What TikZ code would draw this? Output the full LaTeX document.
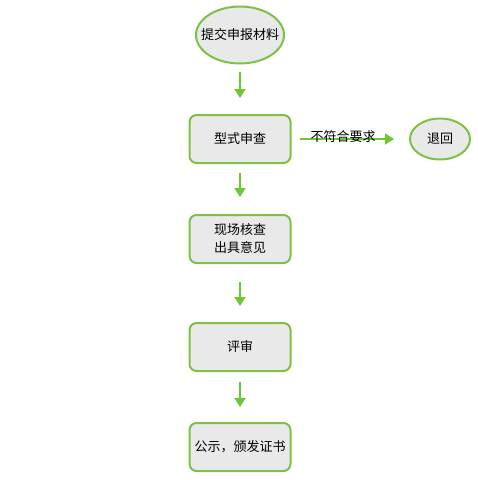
\documentclass[tikz,border=0pt]{standalone}
\usepackage{fontspec}
\setmainfont{Noto Sans CJK SC}
\usetikzlibrary{arrows.meta, shapes.geometric}
\definecolor{linegreen}{HTML}{7DC242}
\definecolor{arrowgreen}{HTML}{6CC635}
\definecolor{boxgrey}{HTML}{E9E9E9}

\begin{document}
\begin{tikzpicture}[x=1pt, y=-1pt,
        stepbox/.style={rectangle, rounded corners=7pt, draw=linegreen, line width=2pt, fill=boxgrey, minimum width=101pt, minimum height=48pt, align=center, inner sep=0pt},
        endnode/.style={ellipse, draw=linegreen, line width=2pt, fill=boxgrey, inner xsep=-9pt, inner ysep=0pt},
        flow/.style={draw=arrowgreen, line width=1.8pt, -{Triangle[length=9pt, width=11pt]}},
        label/.style={font=\fontsize{13}{16}\selectfont},
        every node/.append style={font=\fontsize{13}{18}\selectfont}
    ]
        \useasboundingbox (0,0) rectangle (478,480);
        
        % Start
        \node[endnode, minimum width=88pt, minimum height=57pt] (S) at (240,35) {提交申报材料};
        
        % Steps
        \node[stepbox] (A) at (240,139) {型式申查};
        \node[stepbox] (B) at (240,239) {现场核查\\出具意见};
        \node[stepbox] (C) at (240,347) {评审};
        \node[stepbox] (D) at (240,447) {公示，颁发证书};
        
        % Reject
        \node[endnode, minimum width=60pt, minimum height=41pt] (R) at (440,139) {退回};
        
        % Connectors
        \coordinate (S1) at (240,72);  \coordinate (S2) at (240,98);
        \coordinate (A1) at (240,173); \coordinate (A2) at (240,197);
        \coordinate (B1) at (240,282); \coordinate (B2) at (240,306);
        \coordinate (C1) at (240,382); \coordinate (C2) at (240,407);
        \coordinate (R1) at (300,139); \coordinate (R2) at (394,139);
        \draw[flow] (S1) -- (S2);
        \draw[flow] (A1) -- (A2);
        \draw[flow] (B1) -- (B2);
        \draw[flow] (C1) -- (C2);
        \draw[flow] (R1) -- (R2);
        
        % Label
        \node[label] (L) at (343,137) {不符合要求};
    \end{tikzpicture}
\end{document}
